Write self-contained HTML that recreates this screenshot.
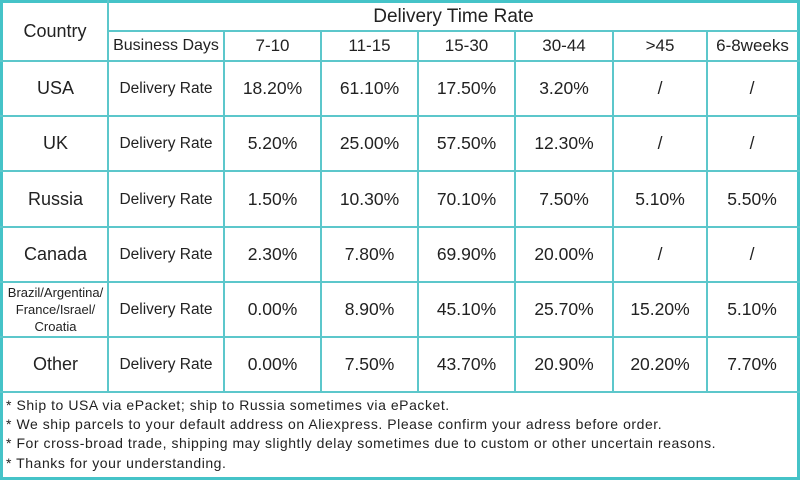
<!DOCTYPE html>
<html><head><style>
body{margin:0;width:800px;height:480px;background:#fff;position:relative;overflow:hidden;font-family:"Liberation Sans",Arial,sans-serif;color:#222}
.h,.v{position:absolute;background:#5cc7cb}
.h{height:2px}.v{width:2px}
.n{position:absolute;left:6px;font-size:14px;letter-spacing:0.55px;white-space:nowrap}
table{position:absolute;left:3px;top:61px;border-collapse:collapse;table-layout:fixed}
td{padding:0;text-align:center;vertical-align:middle;font-size:17.5px;line-height:1.05}
td.c{font-size:18px}
td.d{font-size:15.5px;padding-top:2px}
.hd{position:absolute;top:32px;height:28px;display:flex;align-items:center;justify-content:center;font-size:17px}
</style></head><body>
<div style="position:absolute;left:0;top:0;width:794px;height:474px;border:3px solid #45c3c8"></div>
<div class="h" style="left:108px;width:690px;top:30px"></div>
<div class="h" style="left:0;width:800px;top:60px"></div>
<div class="h" style="left:0;width:800px;top:115px"></div>
<div class="h" style="left:0;width:800px;top:170px"></div>
<div class="h" style="left:0;width:800px;top:226px"></div>
<div class="h" style="left:0;width:800px;top:281px"></div>
<div class="h" style="left:0;width:800px;top:336px"></div>
<div class="h" style="left:0;width:800px;top:391px"></div>
<div class="v" style="left:107px;top:0;height:392px"></div>
<div class="v" style="left:223px;top:31px;height:361px"></div>
<div class="v" style="left:320px;top:31px;height:361px"></div>
<div class="v" style="left:417px;top:31px;height:361px"></div>
<div class="v" style="left:514px;top:31px;height:361px"></div>
<div class="v" style="left:612px;top:31px;height:361px"></div>
<div class="v" style="left:706px;top:31px;height:361px"></div>

<div class="hd" style="left:3px;width:104px;top:3px;height:57px;font-size:18px">Country</div>
<div class="hd" style="left:109px;width:689px;top:3px;height:27px;font-size:19px">Delivery Time Rate</div>
<div class="hd" style="left:109px;width:114px;font-size:16px">Business Days</div>
<div class="hd" style="left:225px;width:95px">7-10</div>
<div class="hd" style="left:322px;width:95px">11-15</div>
<div class="hd" style="left:419px;width:95px">15-30</div>
<div class="hd" style="left:516px;width:96px">30-44</div>
<div class="hd" style="left:614px;width:92px">&gt;45</div>
<div class="hd" style="left:708px;width:89px">6-8weeks</div>

<table>
<colgroup><col style="width:105px"><col style="width:116px"><col style="width:97px"><col style="width:97px"><col style="width:97px"><col style="width:98px"><col style="width:94px"><col style="width:90px"></colgroup>
<tr style="height:55px"><td class="c">USA</td><td class="d">Delivery Rate</td><td>18.20%</td><td>61.10%</td><td>17.50%</td><td>3.20%</td><td>/</td><td>/</td></tr>
<tr style="height:55px"><td class="c">UK</td><td class="d">Delivery Rate</td><td>5.20%</td><td>25.00%</td><td>57.50%</td><td>12.30%</td><td>/</td><td>/</td></tr>
<tr style="height:56px"><td class="c">Russia</td><td class="d">Delivery Rate</td><td>1.50%</td><td>10.30%</td><td>70.10%</td><td>7.50%</td><td>5.10%</td><td>5.50%</td></tr>
<tr style="height:55px"><td class="c">Canada</td><td class="d">Delivery Rate</td><td>2.30%</td><td>7.80%</td><td>69.90%</td><td>20.00%</td><td>/</td><td>/</td></tr>
<tr style="height:55px"><td style="font-size:13px;line-height:17px">Brazil/Argentina/<br>France/Israel/<br>Croatia</td><td class="d">Delivery Rate</td><td>0.00%</td><td>8.90%</td><td>45.10%</td><td>25.70%</td><td>15.20%</td><td>5.10%</td></tr>
<tr style="height:55px"><td class="c">Other</td><td class="d">Delivery Rate</td><td>0.00%</td><td>7.50%</td><td>43.70%</td><td>20.90%</td><td>20.20%</td><td>7.70%</td></tr>
</table>

<div class="n" style="top:397px">* Ship to USA via ePacket; ship to Russia sometimes via ePacket.</div>
<div class="n" style="top:416px">* We ship parcels to your default address on Aliexpress. Please confirm your adress before order.</div>
<div class="n" style="top:435px">* For cross-broad trade, shipping may slightly delay sometimes due to custom or other uncertain reasons.</div>
<div class="n" style="top:455px">* Thanks for your understanding.</div>
</body></html>
